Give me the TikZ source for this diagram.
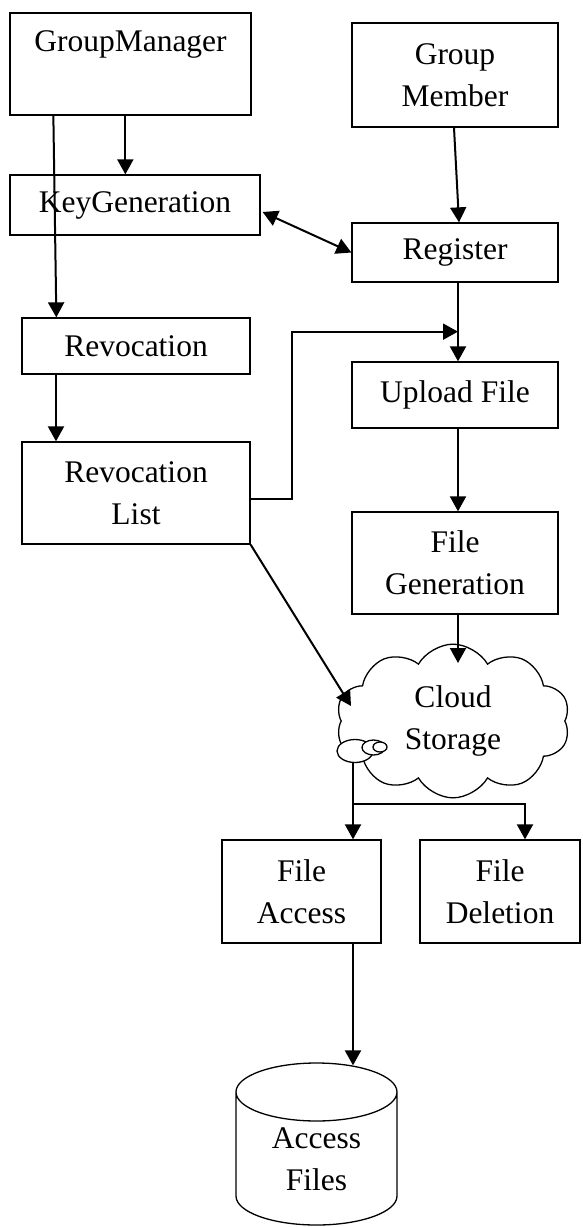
\documentclass[tikz,border=0pt]{standalone}
\usepackage{fontspec}
\setmainfont{Liberation Serif}
\usepackage{tikz}
\usetikzlibrary{positioning, arrows.meta, calc, shapes.geometric, shapes.symbols}

\begin{document}
\begin{tikzpicture}[x=1pt, y=-1pt, >={Triangle[length=15pt, width=16pt]},
            line width=2pt, font=\fontsize{31.5}{42}\selectfont,
            box/.style={draw, line width=1.3pt, align=center, inner sep=0pt, fill=white}]
          \useasboundingbox (0,0) rectangle (582,1227);
          \node[box, minimum width=241pt, minimum height=102pt] (gm) at (130.5,64) {\strut GroupManager\\\strut};
          \node[box, minimum width=250pt, minimum height=60pt] (kg) at (135,205) {KeyGeneration};
          \node[box, minimum width=206pt, minimum height=104pt] (gmem) at (455,75) {Group\\Member};
          \node[box, minimum width=206pt, minimum height=59pt] (reg) at (455,252.5) {Register};
          \node[box, minimum width=228pt, minimum height=56pt] (rev) at (136,346) {Revocation};
          \node[box, minimum width=228pt, minimum height=102pt] (rl) at (136,493) {Revocation\\List};
          \node[box, minimum width=206pt, minimum height=66pt] (up) at (455,395) {Upload File};
          \node[box, minimum width=206pt, minimum height=102pt] (fg) at (455,563) {File\\Generation};
          \node[cloud, draw, line width=1.3pt, cloud puffs=10, cloud puff arc=120, align=center,
                minimum width=234pt, minimum height=127pt, inner sep=0pt] (cs) at (453,721) {Cloud\\Storage};
          \node[box, minimum width=159pt, minimum height=103pt] (fa) at (301.5,891.5) {File\\Access};
          \node[box, minimum width=160pt, minimum height=103pt] (fd) at (500,891.5) {File\\Deletion};
          \node[cylinder, draw, line width=1.3pt, shape border rotate=90, aspect=0.65, align=center,
                minimum width=161pt, minimum height=162pt, inner sep=0pt,
                anchor=shape center] (af) at (316.5,1144) {Access\\Files};
          \draw[line width=1.3pt, fill=white] (355,751) ellipse [x radius=18, y radius=11.5];
          \draw[line width=1.3pt, fill=white] (373.5,747.5) ellipse [x radius=11.5, y radius=7.5];
          \draw[line width=1.3pt, fill=white] (380,747) ellipse [x radius=7, y radius=5];
          \coordinate (jn) at ($(reg.south)+(3,49)$);
          \coordinate (cb) at ($(cs.center)+(-100,42)$);
          \coordinate (br) at ($(cb)+(0,41)$);
          \draw[->] ($(gm.south west)+(116,0)$) -- ($(kg.north west)+(116,0)$);
          \draw[->] ($(gm.south west)+(44,0)$) -- ($(rev.north west)+(35,0)$);
          \draw[<->] ($(kg.east)+(2,7)$) -- (reg.west);
          \draw[->] ($(gmem.south)+(-1,0)$) -- ($(reg.north)+(4,0)$);
          \draw[->] ($(reg.south)+(3,0)$) -- ($(up.north)+(3,0)$);
          \draw[->] ($(rl.east)+(0,6)$) -- ++(41,0) |- (jn);
          \draw[->] (rev.south -| 56,0) -- (rl.north -| 56,0);
          \draw[->] ($(up.south)+(3,0)$) -- ($(fg.north)+(3,0)$);
          \draw[->] ($(fg.south)+(3,0)$) -- ($(cs.center)+(5,-58)$);
          \draw[->] (rl.south east) -- ($(cs.center)+(-102,-15)$);
          \draw[->] (cb) -- ($(fa.north)+(51.5,0)$);
          \draw[->] (br) -| ($(fd.north)+(25,0)$);
          \draw[->] ($(fa.south)+(51.5,0)$) -- ($(af.north)+(36.5,3)$);
        \end{tikzpicture}
\end{document}
